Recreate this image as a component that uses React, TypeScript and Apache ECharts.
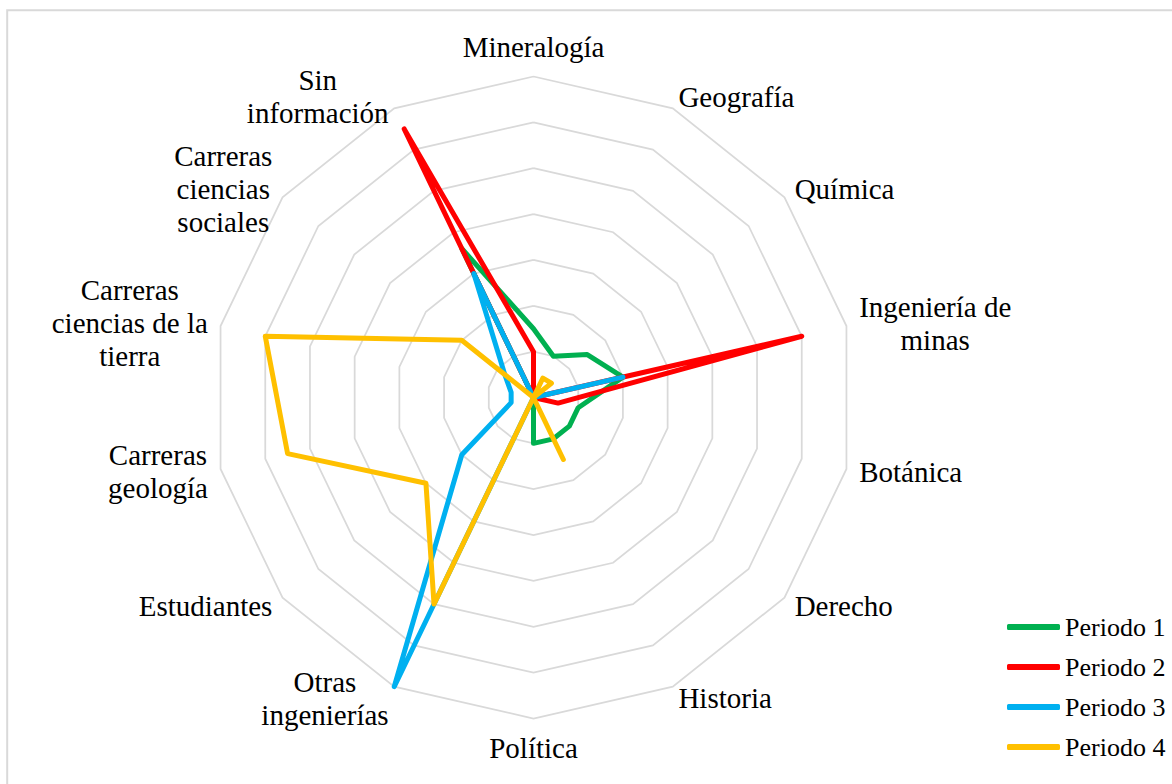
import React, { useEffect, useRef } from "react";
import * as echarts from "echarts";

// Indicators, listed clockwise starting from the top
const CATEGORIES: string[] = [
  "Mineralogía",
  "Geografía",
  "Química",
  "Ingeniería de minas",
  "Botánica",
  "Derecho",
  "Historia",
  "Política",
  "Otras ingenierías",
  "Estudiantes",
  "Carreras geología",
  "Carreras ciencias de la tierra",
  "Carreras ciencias sociales",
  "Sin información",
];

// How each indicator label is broken into lines
const LABEL_LINES: Record<string, string[]> = {
  "Ingeniería de minas": ["Ingeniería de", "minas"],
  "Otras ingenierías": ["Otras", "ingenierías"],
  "Carreras geología": ["Carreras", "geología"],
  "Carreras ciencias de la tierra": ["Carreras", "ciencias de la", "tierra"],
  "Carreras ciencias sociales": ["Carreras", "ciencias", "sociales"],
  "Sin información": ["Sin", "información"],
};

const SERIES_NAMES = ["Periodo 1", "Periodo 2", "Periodo 3", "Periodo 4"];
const SERIES_COLORS = ["#00B050", "#FF0000", "#00B0F0", "#FFC000"];

const PERIODO_1 = [15, 10, 15, 20, 10, 10, 10, 10, 0, 0, 0, 0, 0, 36];
const PERIODO_2 = [10, 0, 0, 60, 5.5, 0, 0, 0, 0, 0, 0, 0, 0, 65];
const PERIODO_3 = [0, 0, 0, 20, 0, 0, 0, 0, 70, 20, 5, 5, 8, 30];
const PERIODO_4 = [0, 4.7, 5, 0, 0, 0, 15, 0, 50, 30, 55, 60, 20, 0];

const AXIS_MAX = 70;
const SPLIT_NUMBER = 7;

const FONT = "'Liberation Serif', 'Times New Roman', serif";

export default function App() {
  const ref = useRef<HTMLDivElement>(null);

  useEffect(() => {
    if (!ref.current) return;
    const chart = echarts.init(ref.current, undefined, { renderer: "svg" });

    // ECharts radar runs counter-clockwise; reorder so the picture runs clockwise
    const n = CATEGORIES.length;
    const order = [0];
    for (let i = n - 1; i >= 1; i--) order.push(i);
    const reorder = (arr: number[]) => order.map((i) => arr[i]);

    const allSeries = [PERIODO_1, PERIODO_2, PERIODO_3, PERIODO_4];

    const option: any = {
      animation: false,
      backgroundColor: "#ffffff",
      textStyle: { fontFamily: FONT },
      graphic: [
        {
          type: "rect",
          shape: { x: 7.2, y: 10.2, width: 1200, height: 800 },
          style: { fill: "none", stroke: "#d9d9d9", lineWidth: 2 },
          silent: true,
        },
      ],
      legend: {
        orient: "vertical",
        left: 1007,
        top: 612,
        padding: 0,
        itemWidth: 53,
        itemHeight: 6,
        itemGap: 10,
        icon: "roundRect",
        data: SERIES_NAMES,
        textStyle: {
          fontFamily: FONT,
          fontSize: 26,
          lineHeight: 30,
          color: "#000000",
        },
      },
      radar: {
        center: [533.5, 397.5],
        radius: 321,
        startAngle: 90,
        splitNumber: SPLIT_NUMBER,
        shape: "polygon",
        nameGap: 13,
        indicator: order.map((i) => ({
          name: CATEGORIES[i],
          min: 0,
          max: AXIS_MAX,
        })),
        axisName: {
          color: "#000000",
          fontFamily: FONT,
          fontSize: 29,
          lineHeight: 33,
          formatter: (name: string) => {
            const lines = LABEL_LINES[name] || [name];
            return lines.map((l) => `{c|${l}}`).join("\n");
          },
          rich: {
            c: {
              align: "center",
              fontFamily: FONT,
              fontSize: 29,
              lineHeight: 33,
              color: "#000000",
            },
          },
        },
        axisLine: { show: false },
        axisTick: { show: false },
        axisLabel: { show: false },
        splitArea: { show: false },
        splitLine: {
          lineStyle: { color: "#d9d9d9", width: 1.75 },
        },
      },
      series: [
        {
          type: "radar",
          symbol: "none",
          data: allSeries.map((vals, k) => ({
            name: SERIES_NAMES[k],
            value: reorder(vals),
            itemStyle: { color: SERIES_COLORS[k] },
            lineStyle: {
              color: SERIES_COLORS[k],
              width: 5,
              cap: "round",
              join: "round",
            },
          })),
        },
      ],
    };

    chart.setOption(option);
    return () => chart.dispose();
  }, []);

  return (
    <div
      ref={ref}
      style={{ position: "absolute", left: 0, top: 0, width: 1172, height: 784 }}
    />
  );
}
